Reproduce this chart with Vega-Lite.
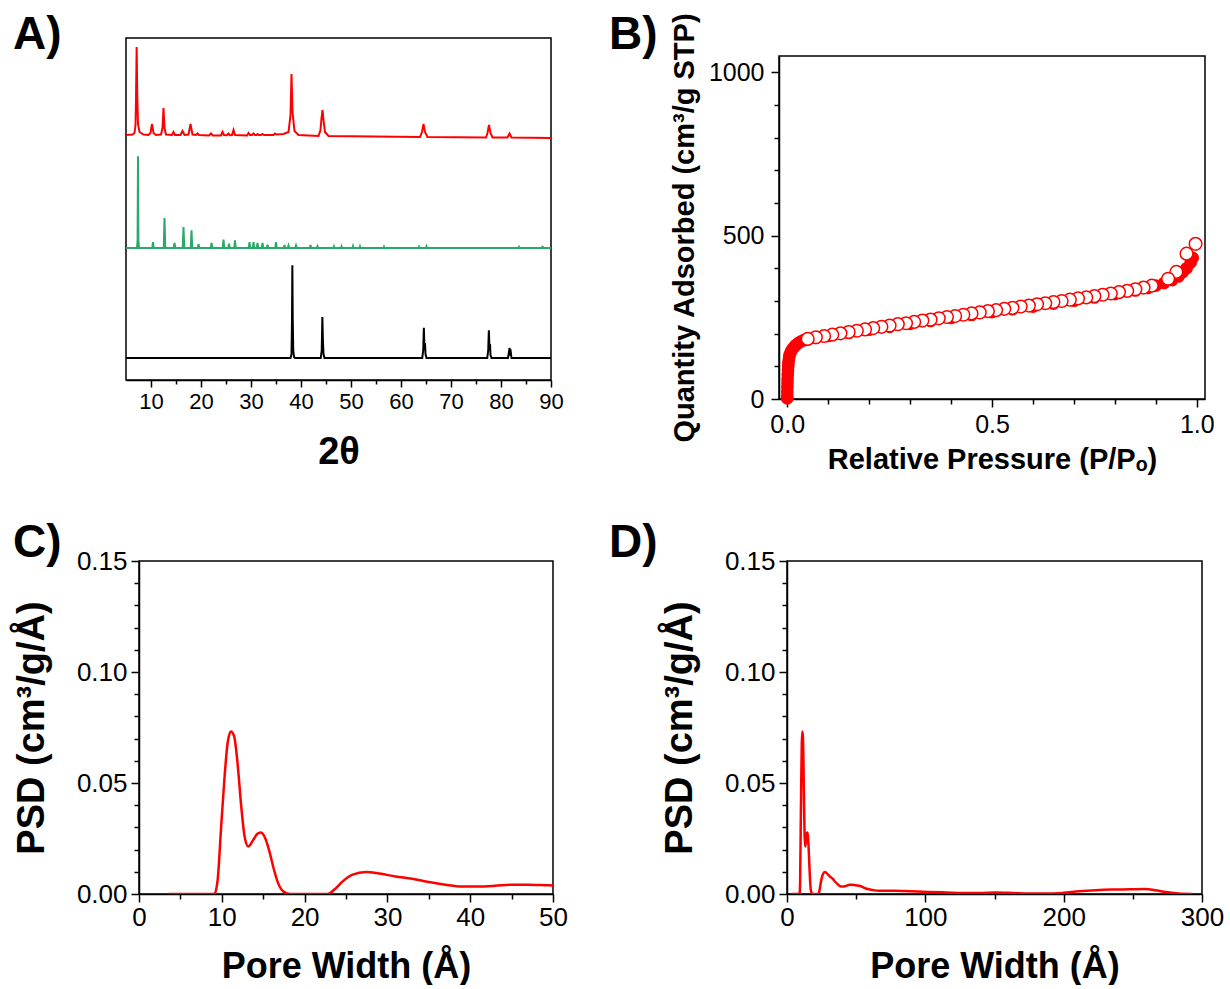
{
"$schema": "https://vega.github.io/schema/vega-lite/v6.json",
"background": "white",
"padding": {"left": 11, "top": 10, "right": 0, "bottom": 0},
"autosize": {"type": "pad"},
"config": {
 "font": "Liberation Sans",
 "view": {"stroke": "#000", "strokeWidth": 1.5},
 "axis": {"domainColor": "#000", "domainWidth": 1.5, "tickColor": "#000", "tickWidth": 1.5, "labelColor": "#000", "titleColor": "#000", "labelFont": "Liberation Sans", "titleFont": "Liberation Sans, DejaVu Sans", "titleFontWeight": "bold", "grid": false, "labelFlush": false, "labelOverlap": false},
 "title": {"font": "Liberation Sans", "fontWeight": "bold", "fontSize": 46, "color": "#000", "anchor": "start", "frame": "group", "offset": 0}
},
"datasets": {
 "xrd": [
  {"s":"red","t":5,"i":245},{"s":"red","t":6.3,"i":245.5},{"s":"red","t":6.7,"i":247},{"s":"red","t":6.9,"i":255},{"s":"red","t":7.0,"i":280},{"s":"red","t":7.13,"i":333},{"s":"red","t":7.25,"i":285},{"s":"red","t":7.4,"i":256},{"s":"red","t":7.7,"i":248},{"s":"red","t":8.5,"i":245.5},{"s":"red","t":9.5,"i":245},{"s":"red","t":9.9,"i":247},{"s":"red","t":10.2,"i":256},{"s":"red","t":10.5,"i":247},{"s":"red","t":11,"i":245},{"s":"red","t":12.0,"i":245.5},{"s":"red","t":12.3,"i":252},{"s":"red","t":12.5,"i":272},{"s":"red","t":12.7,"i":252},{"s":"red","t":13.0,"i":245.5},{"s":"red","t":14.2,"i":245},{"s":"red","t":14.5,"i":248},{"s":"red","t":14.8,"i":245},{"s":"red","t":15.9,"i":245},{"s":"red","t":16.3,"i":249},{"s":"red","t":16.7,"i":245},{"s":"red","t":17.5,"i":245.5},{"s":"red","t":17.9,"i":256},{"s":"red","t":18.3,"i":245.5},{"s":"red","t":19.0,"i":245},{"s":"red","t":19.3,"i":246.5},{"s":"red","t":19.6,"i":245},{"s":"red","t":21.6,"i":244.5},{"s":"red","t":22.0,"i":246.5},{"s":"red","t":22.4,"i":244.5},{"s":"red","t":24.0,"i":244.5},{"s":"red","t":24.3,"i":248},{"s":"red","t":24.6,"i":245},{"s":"red","t":25.2,"i":244.8},{"s":"red","t":25.5,"i":246.5},{"s":"red","t":25.8,"i":244.8},{"s":"red","t":26.2,"i":245},{"s":"red","t":26.5,"i":250},{"s":"red","t":26.8,"i":245},{"s":"red","t":29.2,"i":244.5},{"s":"red","t":29.5,"i":247},{"s":"red","t":29.8,"i":245},{"s":"red","t":30.2,"i":245},{"s":"red","t":30.5,"i":246.5},{"s":"red","t":30.8,"i":245},{"s":"red","t":31.1,"i":245},{"s":"red","t":31.3,"i":246},{"s":"red","t":31.6,"i":245},{"s":"red","t":32.0,"i":245},{"s":"red","t":32.3,"i":246},{"s":"red","t":32.6,"i":245},{"s":"red","t":34.5,"i":245},{"s":"red","t":34.8,"i":246.5},{"s":"red","t":35.1,"i":245.5},{"s":"red","t":36.5,"i":246},{"s":"red","t":37.5,"i":248},{"s":"red","t":37.9,"i":265},{"s":"red","t":38.1,"i":306},{"s":"red","t":38.3,"i":268},{"s":"red","t":38.7,"i":249},{"s":"red","t":39.5,"i":245},{"s":"red","t":43.5,"i":244},{"s":"red","t":43.9,"i":250},{"s":"red","t":44.1,"i":262},{"s":"red","t":44.3,"i":270},{"s":"red","t":44.5,"i":260},{"s":"red","t":44.8,"i":248},{"s":"red","t":45.5,"i":244},{"s":"red","t":63.8,"i":243},{"s":"red","t":64.2,"i":248},{"s":"red","t":64.5,"i":256},{"s":"red","t":64.8,"i":248},{"s":"red","t":65.3,"i":243},{"s":"red","t":77.0,"i":242.5},{"s":"red","t":77.3,"i":247},{"s":"red","t":77.6,"i":255},{"s":"red","t":77.9,"i":247},{"s":"red","t":78.3,"i":242.5},{"s":"red","t":81.3,"i":242.5},{"s":"red","t":81.7,"i":246.5},{"s":"red","t":82.1,"i":242.5},{"s":"red","t":90,"i":242},
  {"s":"green","t":5,"i":132},{"s":"green","t":7.2,"i":132},{"s":"green","t":7.32,"i":140},{"s":"green","t":7.4,"i":223.7},{"s":"green","t":7.48,"i":140},{"s":"green","t":7.6,"i":132},{"s":"green","t":10.25,"i":132},{"s":"green","t":10.4,"i":138},{"s":"green","t":10.55,"i":132},{"s":"green","t":12.55,"i":132},{"s":"green","t":12.7,"i":162},{"s":"green","t":12.85,"i":132},{"s":"green","t":14.55,"i":132},{"s":"green","t":14.7,"i":137},{"s":"green","t":14.85,"i":132},{"s":"green","t":16.35,"i":132},{"s":"green","t":16.5,"i":153},{"s":"green","t":16.65,"i":132},{"s":"green","t":17.95,"i":132},{"s":"green","t":18.1,"i":149.7},{"s":"green","t":18.25,"i":132},{"s":"green","t":19.35,"i":132},{"s":"green","t":19.5,"i":135.7},{"s":"green","t":19.65,"i":132},{"s":"green","t":21.95,"i":132},{"s":"green","t":22.1,"i":137},{"s":"green","t":22.25,"i":132},{"s":"green","t":24.35,"i":132},{"s":"green","t":24.5,"i":140.3},{"s":"green","t":24.65,"i":132},{"s":"green","t":25.45,"i":132},{"s":"green","t":25.6,"i":136.3},{"s":"green","t":25.75,"i":132},{"s":"green","t":26.65,"i":132},{"s":"green","t":26.8,"i":139.7},{"s":"green","t":26.95,"i":132},{"s":"green","t":29.55,"i":132},{"s":"green","t":29.7,"i":138},{"s":"green","t":29.85,"i":132},{"s":"green","t":30.35,"i":132},{"s":"green","t":30.5,"i":138},{"s":"green","t":30.65,"i":132},{"s":"green","t":31.15,"i":132},{"s":"green","t":31.3,"i":137},{"s":"green","t":31.45,"i":132},{"s":"green","t":32.15,"i":132},{"s":"green","t":32.3,"i":137},{"s":"green","t":32.45,"i":132},{"s":"green","t":33.15,"i":132},{"s":"green","t":33.3,"i":135.3},{"s":"green","t":33.45,"i":132},{"s":"green","t":34.85,"i":132},{"s":"green","t":35.0,"i":138},{"s":"green","t":35.15,"i":132},{"s":"green","t":36.55,"i":132},{"s":"green","t":36.7,"i":135},{"s":"green","t":36.85,"i":132},{"s":"green","t":37.35,"i":132},{"s":"green","t":37.5,"i":134.5},{"s":"green","t":37.65,"i":132},{"s":"green","t":38.85,"i":132},{"s":"green","t":39.0,"i":134.5},{"s":"green","t":39.15,"i":132},{"s":"green","t":41.75,"i":132},{"s":"green","t":41.9,"i":135},{"s":"green","t":42.05,"i":132},{"s":"green","t":43.15,"i":132},{"s":"green","t":43.3,"i":133.7},{"s":"green","t":43.45,"i":132},{"s":"green","t":46.5,"i":132},{"s":"green","t":46.6,"i":133.5},{"s":"green","t":46.7,"i":132},{"s":"green","t":48.0,"i":132},{"s":"green","t":48.1,"i":133.5},{"s":"green","t":48.2,"i":132},{"s":"green","t":50.3,"i":132},{"s":"green","t":50.4,"i":133.8},{"s":"green","t":50.5,"i":132},{"s":"green","t":51.7,"i":132},{"s":"green","t":51.8,"i":133.5},{"s":"green","t":51.9,"i":132},{"s":"green","t":56.5,"i":132},{"s":"green","t":56.6,"i":133.2},{"s":"green","t":56.7,"i":132},{"s":"green","t":63.5,"i":132},{"s":"green","t":63.6,"i":133.2},{"s":"green","t":63.7,"i":132},{"s":"green","t":65.0,"i":132},{"s":"green","t":65.1,"i":133.5},{"s":"green","t":65.2,"i":132},{"s":"green","t":83.5,"i":132},{"s":"green","t":83.6,"i":133},{"s":"green","t":83.7,"i":132},{"s":"green","t":88.2,"i":132},{"s":"green","t":88.3,"i":134},{"s":"green","t":88.4,"i":132},{"s":"green","t":90,"i":132},
  {"s":"black","t":5,"i":22},{"s":"black","t":37.9,"i":22},{"s":"black","t":38.1,"i":26},{"s":"black","t":38.2,"i":60},{"s":"black","t":38.27,"i":114.7},{"s":"black","t":38.35,"i":60},{"s":"black","t":38.45,"i":30},{"s":"black","t":38.6,"i":23},{"s":"black","t":38.8,"i":22},{"s":"black","t":43.95,"i":22},{"s":"black","t":44.15,"i":30},{"s":"black","t":44.27,"i":63},{"s":"black","t":44.38,"i":40},{"s":"black","t":44.5,"i":26},{"s":"black","t":44.7,"i":22},{"s":"black","t":64.25,"i":22},{"s":"black","t":64.45,"i":30},{"s":"black","t":64.57,"i":52.3},{"s":"black","t":64.68,"i":35},{"s":"black","t":64.8,"i":37},{"s":"black","t":64.9,"i":26},{"s":"black","t":65.1,"i":22},{"s":"black","t":77.25,"i":22},{"s":"black","t":77.45,"i":30},{"s":"black","t":77.57,"i":49.7},{"s":"black","t":77.68,"i":34},{"s":"black","t":77.8,"i":36},{"s":"black","t":77.9,"i":25},{"s":"black","t":78.1,"i":22},{"s":"black","t":81.4,"i":22},{"s":"black","t":81.6,"i":28},{"s":"black","t":81.7,"i":32},{"s":"black","t":81.85,"i":27},{"s":"black","t":81.95,"i":28},{"s":"black","t":82.1,"i":22},{"s":"black","t":90,"i":22}
 ],
 "ads": [
  {"p":0.0001,"q":2},{"p":0.0002,"q":10},{"p":0.0003,"q":22},{"p":0.0005,"q":36},{"p":0.0008,"q":50},{"p":0.001,"q":62},{"p":0.0015,"q":75},{"p":0.002,"q":88},{"p":0.0025,"q":100},{"p":0.003,"q":110},{"p":0.004,"q":120},{"p":0.005,"q":128},{"p":0.006,"q":135},{"p":0.008,"q":142},{"p":0.01,"q":148},{"p":0.014,"q":155},{"p":0.018,"q":161},{"p":0.022,"q":166},{"p":0.027,"q":171},{"p":0.033,"q":176},{"p":0.04,"q":180},{"p":0.05,"q":183},{"p":0.07,"q":187},{"p":0.1,"q":193},{"p":0.15,"q":202},{"p":0.2,"q":212},{"p":0.25,"q":221},{"p":0.3,"q":230},{"p":0.35,"q":239},{"p":0.4,"q":248},{"p":0.45,"q":257},{"p":0.5,"q":266},{"p":0.55,"q":275},{"p":0.6,"q":283},{"p":0.65,"q":292},{"p":0.7,"q":301},{"p":0.75,"q":311},{"p":0.8,"q":321},{"p":0.85,"q":332},{"p":0.88,"q":340},{"p":0.9,"q":347},{"p":0.92,"q":355},{"p":0.94,"q":364},{"p":0.955,"q":375},{"p":0.965,"q":388},{"p":0.975,"q":400},{"p":0.985,"q":418},{"p":0.99,"q":432}
 ],
 "des": [
  {"p":0.997,"q":475},{"p":0.975,"q":445},{"p":0.95,"q":389},{"p":0.93,"q":368},{"p":0.89,"q":347},{"p":0.87,"q":341},{"p":0.85,"q":336},{"p":0.83,"q":331},{"p":0.81,"q":327},{"p":0.79,"q":323},{"p":0.77,"q":319},{"p":0.75,"q":315},{"p":0.73,"q":311},{"p":0.71,"q":308},{"p":0.69,"q":304},{"p":0.67,"q":300},{"p":0.65,"q":297},{"p":0.63,"q":293},{"p":0.61,"q":290},{"p":0.59,"q":286},{"p":0.57,"q":283},{"p":0.55,"q":279},{"p":0.53,"q":276},{"p":0.51,"q":272},{"p":0.49,"q":269},{"p":0.47,"q":265},{"p":0.45,"q":262},{"p":0.43,"q":258},{"p":0.41,"q":254},{"p":0.39,"q":251},{"p":0.37,"q":247},{"p":0.35,"q":243},{"p":0.33,"q":240},{"p":0.31,"q":236},{"p":0.29,"q":232},{"p":0.27,"q":229},{"p":0.25,"q":225},{"p":0.23,"q":221},{"p":0.21,"q":217},{"p":0.19,"q":213},{"p":0.17,"q":209},{"p":0.15,"q":205},{"p":0.13,"q":201},{"p":0.11,"q":197},{"p":0.09,"q":193},{"p":0.07,"q":189},{"p":0.05,"q":184}
 ],
 "psd": [
  {"w":3.6,"v":0},{"w":9.1,"v":0},{"w":9.5,"v":0.0064},{"w":9.9,"v":0.029},{"w":10.3,"v":0.051},{"w":10.7,"v":0.068},{"w":11.1,"v":0.0732},{"w":11.5,"v":0.0709},{"w":11.9,"v":0.059},{"w":12.35,"v":0.0394},{"w":12.75,"v":0.0259},{"w":13.2,"v":0.0214},{"w":13.75,"v":0.0241},{"w":14.3,"v":0.0271},{"w":14.7,"v":0.0277},{"w":15.15,"v":0.0259},{"w":15.7,"v":0.0199},{"w":16.2,"v":0.0124},{"w":16.8,"v":0.0049},{"w":17.4,"v":0.0012},{"w":18.2,"v":0},{"w":22.8,"v":0},{"w":23.6,"v":0.002},{"w":24.6,"v":0.0057},{"w":25.8,"v":0.0087},{"w":27.4,"v":0.0099},{"w":29,"v":0.0092},{"w":31,"v":0.0079},{"w":33,"v":0.0069},{"w":35,"v":0.0054},{"w":37,"v":0.0042},{"w":39,"v":0.0034},{"w":41,"v":0.0034},{"w":43,"v":0.0037},{"w":45,"v":0.0042},{"w":47,"v":0.0042},{"w":49.5,"v":0.0039},{"w":53,"v":0.0036},{"w":57,"v":0.0025},{"w":62,"v":0.0018},{"w":66,"v":0.0015},{"w":78,"v":0.0015},{"w":90,"v":0.0012},{"w":102,"v":0.0009},{"w":115,"v":0.0007},{"w":127,"v":0.0005},{"w":139,"v":0.0005},{"w":151,"v":0.0007},{"w":163,"v":0.0005},{"w":175,"v":0.0002},{"w":187,"v":0.0002},{"w":199,"v":0.0005},{"w":211,"v":0.0012},{"w":223,"v":0.0017},{"w":235,"v":0.002},{"w":247,"v":0.0021},{"w":259,"v":0.0022},{"w":266,"v":0.0017},{"w":274,"v":0.0009},{"w":283,"v":0.0002},{"w":293,"v":0}
 ]
},
"columns": 2,
"align": "each",
"spacing": {"row": 43, "column": 38},
"concat": [
 {"spacing": 0, "vconcat": [
  {"width": 1, "height": 1, "view": {"stroke": null}, "data": {"values": []}, "mark": "point", "encoding": {}},
  {"spacing": 0, "hconcat": [
   {"width": 1, "height": 1, "view": {"stroke": null}, "data": {"values": []}, "mark": "point", "encoding": {}},
   {
    "width": 425, "height": 342,
    "title": {"text": "A)", "dx": -113, "dy": 25},
    "layer": [
     {"data": {"name": "xrd"}, "mark": {"type": "line"},
      "encoding": {
       "x": {"field": "t", "type": "quantitative", "scale": {"domain": [5, 90], "nice": false, "zero": false},
        "axis": {"values": [10,20,30,40,50,60,70,80,90], "format": "d", "tickSize": 7, "labelFontSize": 22, "labelPadding": 4, "title": "2θ", "titleFontSize": 38, "titlePadding": 21}},
       "y": {"field": "i", "type": "quantitative", "scale": {"domain": [0, 342], "nice": false}, "axis": null},
       "color": {"field": "s", "type": "nominal", "scale": {"domain": ["red","green","black"], "range": ["#ff0000","#2aaa68","#000000"]}, "legend": null},
       "strokeWidth": {"field": "s", "type": "nominal", "scale": {"domain": ["red","green","black"], "range": [2, 2, 2.5]}, "legend": null}
      }},
     {"data": {"values": []}, "mark": "point",
      "encoding": {
       "x": {"field": "t", "type": "quantitative", "scale": {"domain": [5, 90], "nice": false, "zero": false},
        "axis": {"orient": "bottom", "values": [15,25,35,45,55,65,75,85], "labels": false, "domain": false, "tickSize": 4, "title": null}}
      }}
    ],
    "resolve": {"axis": {"x": "independent"}}
   }
  ]}
 ]},
 {"spacing": 0, "vconcat": [
  {"width": 1, "height": 1, "view": {"stroke": null}, "data": {"values": []}, "mark": "point", "encoding": {}},
  {"spacing": 0, "hconcat": [
   {"width": 1, "height": 1, "view": {"stroke": null}, "data": {"values": []}, "mark": "point", "encoding": {}},
   {
    "width": 426, "height": 343,
    "title": {"text": "B)", "dx": -170, "dy": 51},
    "layer": [
     {"data": {"name": "ads"}, "mark": {"type": "point", "shape": "circle", "filled": true, "color": "#ff0000", "size": 160, "opacity": 1},
      "encoding": {
       "x": {"field": "p", "type": "quantitative", "scale": {"domain": [-0.02, 1.02], "nice": false, "zero": false},
        "axis": {"values": [0, 0.5, 1], "format": ".1f", "tickSize": 8, "labelFontSize": 25, "labelPadding": 5, "title": "Relative Pressure (P/Pₒ)", "titleFontSize": 29, "titlePadding": 8}},
       "y": {"field": "q", "type": "quantitative", "scale": {"domain": [0, 1050], "nice": false},
        "axis": {"values": [0, 500, 1000], "format": "d", "tickSize": 8, "labelFontSize": 25, "labelPadding": 7, "title": "Quantity Adsorbed (cm³/g STP)", "titleFontSize": 29, "titlePadding": 9}}
      }},
     {"data": {"name": "des"}, "mark": {"type": "point", "shape": "circle", "filled": true, "fill": "#ffffff", "stroke": "#ff0000", "strokeWidth": 1.5, "size": 160, "opacity": 1},
      "encoding": {
       "x": {"field": "p", "type": "quantitative", "scale": {"domain": [-0.02, 1.02], "nice": false, "zero": false},
        "axis": {"orient": "bottom", "values": [0.1,0.2,0.3,0.4,0.6,0.7,0.8,0.9], "labels": false, "domain": false, "tickSize": 5, "title": null}},
       "y": {"field": "q", "type": "quantitative", "scale": {"domain": [0, 1050], "nice": false},
        "axis": {"orient": "left", "values": [100,200,300,400,600,700,800,900], "labels": false, "domain": false, "tickSize": 5, "title": null}}
      }}
    ],
    "resolve": {"axis": {"x": "independent", "y": "independent"}}
   }
  ]}
 ]},
 {"spacing": 0, "vconcat": [
  {"width": 1, "height": 1, "view": {"stroke": null}, "data": {"values": []}, "mark": "point", "encoding": {}},
  {"spacing": 0, "hconcat": [
   {"width": 1, "height": 1, "view": {"stroke": null}, "data": {"values": []}, "mark": "point", "encoding": {}},
   {
    "width": 414, "height": 333,
    "title": {"text": "C)", "dx": -126, "dy": 23},
    "layer": [
     {"data": {"name": "psd"}, "mark": {"type": "line", "color": "#ff0000", "strokeWidth": 2.5, "interpolate": "monotone", "clip": true},
      "encoding": {
       "x": {"field": "w", "type": "quantitative", "scale": {"domain": [0, 50], "nice": false},
        "axis": {"values": [0,10,20,30,40,50], "format": "d", "tickSize": 8, "labelFontSize": 26, "labelPadding": 2, "title": "Pore Width (Å)", "titleFontSize": 36, "titlePadding": 19}},
       "y": {"field": "v", "type": "quantitative", "scale": {"domain": [0, 0.15], "nice": false},
        "axis": {"values": [0, 0.05, 0.1, 0.15], "format": ".2f", "tickSize": 8, "labelFontSize": 26, "labelPadding": 4, "title": "PSD (cm³/g/Å)", "titleFontSize": 38, "titlePadding": 25}}
      }},
     {"data": {"values": []}, "mark": "point",
      "encoding": {
       "x": {"field": "w", "type": "quantitative", "scale": {"domain": [0, 50], "nice": false},
        "axis": {"orient": "bottom", "values": [5,15,25,35,45], "labels": false, "domain": false, "tickSize": 5, "title": null}},
       "y": {"field": "v", "type": "quantitative", "scale": {"domain": [0, 0.15], "nice": false},
        "axis": {"orient": "left", "values": [0.01,0.02,0.03,0.04,0.06,0.07,0.08,0.09,0.11,0.12,0.13,0.14], "labels": false, "domain": false, "tickSize": 5, "title": null}}
      }}
    ],
    "resolve": {"axis": {"x": "independent", "y": "independent"}}
   }
  ]}
 ]},
 {"spacing": 0, "vconcat": [
  {"width": 1, "height": 1, "view": {"stroke": null}, "data": {"values": []}, "mark": "point", "encoding": {}},
  {"spacing": 0, "hconcat": [
   {"width": 1, "height": 1, "view": {"stroke": null}, "data": {"values": []}, "mark": "point", "encoding": {}},
   {
    "width": 415, "height": 333,
    "title": {"text": "D)", "dx": -178, "dy": 23},
    "layer": [
     {"data": {"name": "psd"}, "mark": {"type": "line", "color": "#ff0000", "strokeWidth": 2.5, "interpolate": "monotone", "clip": true},
      "encoding": {
       "x": {"field": "w", "type": "quantitative", "scale": {"domain": [0, 300], "nice": false},
        "axis": {"values": [0,100,200,300], "format": "d", "tickSize": 8, "labelFontSize": 26, "labelPadding": 2, "title": "Pore Width (Å)", "titleFontSize": 36, "titlePadding": 19}},
       "y": {"field": "v", "type": "quantitative", "scale": {"domain": [0, 0.15], "nice": false},
        "axis": {"values": [0, 0.05, 0.1, 0.15], "format": ".2f", "tickSize": 8, "labelFontSize": 26, "labelPadding": 4, "title": "PSD (cm³/g/Å)", "titleFontSize": 38, "titlePadding": 25}}
      }},
     {"data": {"values": []}, "mark": "point",
      "encoding": {
       "x": {"field": "w", "type": "quantitative", "scale": {"domain": [0, 300], "nice": false},
        "axis": {"orient": "bottom", "values": [50,150,250], "labels": false, "domain": false, "tickSize": 5, "title": null}},
       "y": {"field": "v", "type": "quantitative", "scale": {"domain": [0, 0.15], "nice": false},
        "axis": {"orient": "left", "values": [0.01,0.02,0.03,0.04,0.06,0.07,0.08,0.09,0.11,0.12,0.13,0.14], "labels": false, "domain": false, "tickSize": 5, "title": null}}
      }}
    ],
    "resolve": {"axis": {"x": "independent", "y": "independent"}}
   }
  ]}
 ]}
]
}
